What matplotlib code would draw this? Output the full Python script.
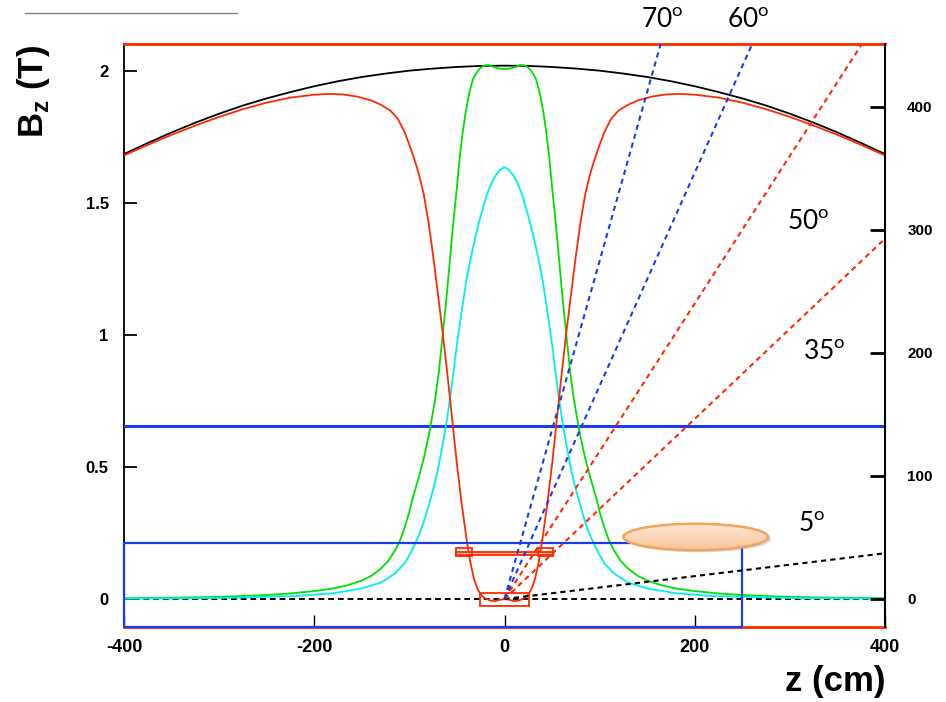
import matplotlib
matplotlib.use('Agg')
import matplotlib.pyplot as plt
import numpy as np
from matplotlib.patches import Rectangle, Ellipse
from matplotlib.lines import Line2D

plt.rcParams['font.family'] = ['Liberation Sans', 'DejaVu Sans']
plt.rcParams['mathtext.fontset'] = 'custom'
plt.rcParams['mathtext.rm'] = 'Lato'
plt.rcParams['mathtext.bf'] = 'Liberation Sans:bold'
plt.rcParams['axes.unicode_minus'] = False

# solenoid field (black, one half, z <= 0; mirrored about z = 0)
z_sol_half = [-400, -375, -350, -325, -300, -275, -250, -225, -200, -175, -150, -125, -100, -75, -50, -25, 0]
b_sol_half = [1.685, 1.727, 1.767, 1.804, 1.838, 1.869, 1.896, 1.920, 1.942, 1.961, 1.977, 1.990, 2.001, 2.009, 2.015, 2.019, 2.020]

# red field (half)
z_red_half = [-400, -375, -350, -325, -300, -275, -250, -225, -200, -185, -170, -155, -140, -130, -120, -112, -105,
              -100, -95, -90, -85, -80, -75, -70, -65, -60, -55, -50, -45, -40, -36, -32, -28, -24, -20, -15, -10, -5, 0]
b_red_half = [1.680, 1.720, 1.758, 1.793, 1.826, 1.855, 1.880, 1.899, 1.910, 1.913, 1.911, 1.903, 1.888, 1.872, 1.850, 1.818, 1.768,
              1.720, 1.668, 1.610, 1.535, 1.430, 1.300, 1.155, 1.010, 0.850, 0.680, 0.510, 0.360, 0.230, 0.140, 0.075, 0.035, 0.012, 0.002, -0.006, -0.008, -0.003, 0.000]

# green field (half)
z_grn_half = [-400, -350, -300, -250, -225, -200, -180, -165, -150, -140, -130, -122, -115, -110, -105, -100, -97, -91, -85,
              -79, -73, -69, -65, -61, -58, -54, -50, -47, -44, -41, -38, -35, -33, -30, -27, -24, -20, -16, -12, -6, 0]
b_grn_half = [0.003, 0.005, 0.008, 0.015, 0.021, 0.030, 0.040, 0.052, 0.070, 0.088, 0.115, 0.145, 0.185, 0.220, 0.270, 0.330, 0.375, 0.450, 0.530,
              0.630, 0.754, 0.860, 1.000, 1.140, 1.260, 1.420, 1.560, 1.675, 1.765, 1.840, 1.900, 1.945, 1.970, 1.990, 2.005, 2.015, 2.022, 2.022, 2.016, 2.009, 2.007]

# cyan field (half)
z_cyn_half = [-400, -300, -220, -180, -150, -130, -115, -105, -97, -90, -85, -80, -75, -70, -65, -60, -55, -50, -45,
              -40, -35, -30, -25, -20, -15, -10, -5, 0]
b_cyn_half = [0.001, 0.004, 0.011, 0.022, 0.040, 0.062, 0.097, 0.135, 0.186, 0.240, 0.290, 0.350, 0.415, 0.490, 0.585, 0.690, 0.820, 0.965, 1.090,
              1.210, 1.300, 1.380, 1.450, 1.515, 1.565, 1.600, 1.625, 1.635]


def mirror(z_half, b_half):
    z = list(z_half) + [-v for v in reversed(z_half[:-1])]
    b = list(b_half) + list(reversed(b_half[:-1]))
    return z, b


z_sol, b_sol = mirror(z_sol_half, b_sol_half)
z_red, b_red = mirror(z_red_half, b_red_half)
z_grn, b_grn = mirror(z_grn_half, b_grn_half)
z_cyn, b_cyn = mirror(z_cyn_half, b_cyn_half)

b_hline = 0.655
blue_box = (-400, 250, 0.212)   # z from, z to, top
angles = [5.3, 36.2, 50.2, 60.0, 70.0]
angle_labels = ['5', '35', '50', '60', '70']
angle_colors = ['black', '#ff2a00', '#ff2a00', '#1a3ce8', '#1a3ce8']

xticks = [-400, -200, 0, 200, 400]
xlabels = ['-400', '-200', '0', '200', '400']
yticks = [0, 0.5, 1, 1.5, 2]
ylabels = ['0', '0.5', '1', '1.5', '2']
rticks = [0, 100, 200, 300, 400]
rlabels = ['0', '100', '200', '300', '400']

RED = '#ff2a00'
BLUE = '#1a3ce8'

fig = plt.figure(figsize=(9.46, 7.02), dpi=100)
ax = fig.add_axes([124/946, 1-627/702, 761/946, 583/702])
ax.set_xlim(-400, 400)
ax.set_ylim(-0.106, 2.102)

ax.plot(z_sol, b_sol, color='black', lw=1.3, zorder=4)
ax.plot(z_red, b_red, color=RED, lw=1.3, zorder=5)
ax.plot(z_grn, b_grn, color='#00e000', lw=1.3, zorder=4)
ax.plot(z_cyn, b_cyn, color='#00f0f0', lw=1.3, zorder=4)
ax.axhline(0, color='black', lw=1.4, ls=(0, (3, 2)), zorder=3)
ax.axhline(b_hline, color=BLUE, lw=2.2, zorder=3)

# blue box in lower left
ax.add_patch(Rectangle((blue_box[0], -0.106), blue_box[1]-blue_box[0], blue_box[2]+0.106,
                       fill=False, ec=BLUE, lw=1.6, clip_on=False, zorder=6))

# detector boxes near origin
ax.add_patch(Rectangle((-25.5, -0.027), 51, 0.051, fill=False, ec=RED, lw=1.3, zorder=6))
ax.add_patch(Rectangle((-50.5, 0.167), 102, 0.012, fc='#ffb0a0', ec=RED, lw=1.3, zorder=6))
ax.add_patch(Rectangle((-50.5, 0.164), 16.5, 0.030, fill=False, ec=RED, lw=1.3, zorder=6))
ax.add_patch(Rectangle((35, 0.164), 16.5, 0.030, fill=False, ec=RED, lw=1.3, zorder=6))

# orange ellipse with gradient
ell_c, ell_w, ell_h = (201, 0.235), 152, 0.100
shadow = Ellipse((ell_c[0]+3, ell_c[1]-0.008), ell_w, ell_h, fc='#888888', ec='none', alpha=0.35, zorder=6)
ax.add_patch(shadow)
ell = Ellipse(ell_c, ell_w, ell_h, fc='none', ec='#f2a45c', lw=1.8, zorder=8)
ax.add_patch(ell)
grad = np.linspace(0, 1, 64).reshape(-1, 1)
img = ax.imshow(grad, cmap=matplotlib.colors.LinearSegmentedColormap.from_list('o', ['#f9c498', '#fde8d6']),
                extent=(ell_c[0]-ell_w/2, ell_c[0]+ell_w/2, ell_c[1]-ell_h/2, ell_c[1]+ell_h/2),
                origin='lower', aspect='auto', zorder=7)
img.set_clip_path(Ellipse(ell_c, ell_w, ell_h, transform=ax.transData))
ax.set_xlim(-400, 400)
ax.set_ylim(-0.106, 2.102)

ax.set_xticks(xticks, xlabels)
ax.set_yticks(yticks, ylabels)
ax.tick_params(axis='y', direction='in', length=9.5, width=1.3, labelsize=12, pad=11)
ax.tick_params(axis='x', direction='in', length=8.5, width=1, labelsize=13, pad=9)
for lab in ax.get_xticklabels() + ax.get_yticklabels():
    lab.set_fontweight('bold')
ax.spines['top'].set_color(RED)
ax.spines['top'].set_linewidth(2)
ax.spines['bottom'].set_color(RED)
ax.spines['bottom'].set_linewidth(2)
ax.spines['left'].set_linewidth(1.3)
ax.spines['right'].set_visible(False)

# radius axis
ax2 = ax.twinx()
ax2.set_ylim(-22.8, 451)
zz = np.array([0.0, 400.0])
for ang, col in zip(angles, angle_colors):
    ax2.plot(zz, zz*np.tan(np.radians(ang)), color=col, lw=1.5, ls=(0, (2.5, 2)))
ax2.set_yticks(rticks, rlabels)
ax2.tick_params(axis='y', direction='in', length=11, width=2, labelsize=11, pad=16)
for lab in ax2.get_yticklabels():
    lab.set_fontweight('bold')
for s in ['top', 'bottom', 'left']:
    ax2.spines[s].set_visible(False)
ax2.spines['right'].set_linewidth(1.5)
ax2.set_xlim(-400, 400)

# angle labels
label_pos = [(812, 525), (824, 353), (808, 222), (748, 20), (662, 20)]
for lab, (px, py) in zip(angle_labels, label_pos):
    fig.text(px/946, 1-py/702, lab + r'$^{\mathrm{o}}$', family='Lato', fontsize=19,
             ha='center', va='center')

fig.text(33/946, 1-92/702, r'B$_{\mathbf{z}}$ (T)', rotation=90, fontsize=25, fontweight='bold',
         ha='center', va='center')
fig.text(885/946, 1-682/702, 'z (cm)', fontsize=25, fontweight='bold', ha='right', va='center')
fig.add_artist(Line2D([25/946, 237/946], [1-13/702, 1-13/702], color='#808080', lw=1))

fig.savefig('out.png', dpi=100)
